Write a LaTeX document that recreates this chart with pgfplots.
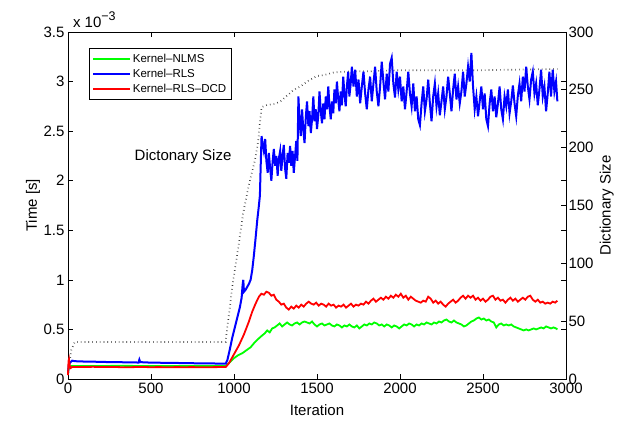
\documentclass[border=0pt]{standalone}
\usepackage{fontspec}
\setmainfont{Liberation Sans}
\usepackage{pgfplots}
\pgfplotsset{compat=1.18}

\definecolor{mgreen}{rgb}{0,1,0}
\definecolor{mblue}{rgb}{0,0,1}
\definecolor{mred}{rgb}{1,0,0}

\pgfplotsset{
  common/.style={
    scale only axis,
    width=498pt, height=347pt,
    xmin=0, xmax=3000,
    tick align=inside,
    major tick length=5pt,
    axis line style={line width=0.9pt},
    every tick/.style={black, line width=0.7pt},
    tick label style={font=\fontsize{15}{17}\selectfont},
    label style={font=\fontsize{15}{17}\selectfont},
    /pgf/number format/assume math mode=true,
    /pgf/number format/1000 sep={},
    scaled ticks=false,
  }
}

\begin{document}
\begin{tikzpicture}
\useasboundingbox (-68pt,-43pt) rectangle (561pt,379pt);

% right axis: dictionary size (drawn first, lines lie above it)
\begin{axis}[
  common,
  hide x axis,
  axis y line*=right,
  ymin=0, ymax=300,
  ytick={0,50,...,300},
  yticklabel style={xshift=-1pt},
  ylabel={Dictionary Size},
  ylabel style={at={(axis description cs:1.082,0.5)}, anchor=center},
]
\addplot[black!80, line width=1.7pt, dash pattern=on 0.6pt off 3.2pt] coordinates {
(0,2) (5,10) (20,25) (40,32) (950,32) (960,45) (980,68) (995,85) (1030,118)
(1055,143) (1090,168) (1126,189) (1145,205) (1156,221) (1166,235) (1200,237)
(1250,238) (1280,240) (1320,245) (1360,250) (1400,253) (1450,258) (1500,262)
(1550,263) (1600,265) (1700,266) (1800,266) (2000,267) (2500,267) (2948,268)
};
\end{axis}

% left axis: time
\begin{axis}[
  common,
  clip=false,
  ymin=0, ymax=3.5,
  xtick={0,500,...,3000},
  ytick={0,0.5,...,3.5},
  yticklabel pos=left,
  xticklabel pos=bottom,
  xlabel={Iteration},
  ylabel={Time [s]},
  xlabel style={at={(axis description cs:0.5,-0.089)}, anchor=center},
  ylabel style={at={(axis description cs:-0.0703,0.5)}, anchor=center},
  legend style={at={(axis description cs:0.042,0.954)}, anchor=north west,
    draw=black, line width=0.8pt, font=\fontsize{11.5}{13}\selectfont,
    inner xsep=3pt, inner ysep=3.5pt, row sep=1.2pt,
    nodes={inner sep=2pt}},
  legend cell align=left,
  legend image code/.code={\draw[#1, line width=1.6pt] (0pt,0pt) -- (37pt,0pt);},
]
\addplot[mgreen, line width=1.8pt] coordinates {
(0,0.05) (3,0.1) (8,0.12) (20,0.13) (100,0.132) (200,0.131) (300,0.133) (400,0.132)
(500,0.13) (600,0.131) (700,0.13) (800,0.132) (900,0.13) (950,0.13) (975,0.17)
(1000,0.21) (1025,0.24) (1050,0.26) (1075,0.29) (1100,0.32) (1125,0.37) (1150,0.41)
(1170,0.44) (1185,0.46) (1200,0.49) (1215,0.47) (1230,0.51) (1245,0.52) (1260,0.54)
(1275,0.56) (1290,0.53) (1305,0.55) (1320,0.57) (1335,0.55) (1350,0.54) (1365,0.56)
(1380,0.57) (1395,0.55) (1410,0.57) (1425,0.58) (1440,0.57) (1455,0.56) (1470,0.58)
(1485,0.55) (1500,0.53) (1515,0.55) (1530,0.56) (1545,0.54) (1560,0.55) (1575,0.56)
(1590,0.54) (1605,0.53) (1620,0.55) (1635,0.54) (1650,0.52) (1665,0.54) (1680,0.53)
(1695,0.55) (1710,0.53) (1725,0.52) (1740,0.54) (1755,0.51) (1770,0.53) (1785,0.55)
(1800,0.54) (1815,0.56) (1830,0.55) (1845,0.57) (1860,0.56) (1875,0.54) (1890,0.55)
(1905,0.53) (1920,0.55) (1935,0.54) (1950,0.52) (1965,0.54) (1980,0.53) (1995,0.51)
(2010,0.53) (2025,0.55) (2040,0.54) (2055,0.56) (2070,0.55) (2085,0.53) (2100,0.55)
(2115,0.54) (2130,0.56) (2145,0.55) (2160,0.57) (2175,0.56) (2190,0.55) (2205,0.57)
(2220,0.56) (2235,0.58) (2250,0.57) (2265,0.59) (2280,0.6) (2295,0.58) (2310,0.57)
(2325,0.59) (2340,0.57) (2355,0.56) (2370,0.55) (2385,0.53) (2400,0.54) (2415,0.56)
(2430,0.58) (2445,0.59) (2460,0.61) (2475,0.62) (2490,0.6) (2505,0.61) (2520,0.59)
(2535,0.6) (2550,0.58) (2565,0.57) (2580,0.52) (2595,0.55) (2610,0.56) (2625,0.54)
(2640,0.55) (2655,0.54) (2670,0.55) (2685,0.53) (2700,0.52) (2715,0.51) (2730,0.5)
(2745,0.49) (2760,0.5) (2775,0.49) (2790,0.5) (2805,0.51) (2820,0.5) (2835,0.51)
(2850,0.52) (2865,0.51) (2880,0.53) (2895,0.52) (2910,0.51) (2925,0.52) (2940,0.51)
(2948,0.5)
};
\addlegendentry{Kernel--NLMS}

\addplot[mblue, line width=2pt] coordinates {
(0,0.06) (4,0.13) (10,0.16) (25,0.185) (40,0.18) (60,0.178) (100,0.176) (150,0.175)
(200,0.172) (250,0.171) (300,0.17) (350,0.168) (400,0.167) (425,0.166) (430,0.195)
(435,0.17) (500,0.165) (550,0.164) (600,0.163) (650,0.162) (700,0.16) (750,0.159)
(800,0.158) (850,0.157) (900,0.156) (950,0.155)
(960,0.19) (975,0.3) (990,0.42) (1005,0.52) (1020,0.62) (1035,0.72) (1046,0.82)
(1052,0.95) (1056,1.0) (1060,0.88) (1070,0.9) (1080,0.93) (1090,0.96) (1100,1.0)
(1110,1.1) (1120,1.25) (1130,1.42) (1140,1.6) (1150,1.75) (1156,1.85) (1160,2.1)
(1166,2.45)
(1172,2.38) (1180,2.3) (1188,2.42) (1195,2.2) (1203,2.08) (1210,2.28) (1218,2.12)
(1225,2.0) (1233,2.2) (1240,2.32) (1248,2.15) (1255,2.25) (1263,2.05) (1270,2.22)
(1278,2.3) (1285,2.1) (1293,2.26) (1300,2.36) (1308,2.12) (1315,2.02) (1323,2.28)
(1330,2.18) (1338,2.35) (1345,2.15) (1353,2.3) (1360,2.08) (1368,2.25) (1375,2.4)
(1382,2.2) (1388,2.85)
(1395,2.6) (1402,2.45) (1410,2.72) (1418,2.5) (1425,2.38) (1433,2.65) (1440,2.8)
(1448,2.55) (1455,2.7) (1463,2.48) (1470,2.62) (1478,2.85) (1485,2.6) (1493,2.72)
(1500,2.52) (1508,2.66) (1515,2.9) (1523,2.7) (1530,2.58) (1538,2.78) (1545,2.62)
(1553,2.85) (1560,2.72) (1568,2.95) (1575,2.75) (1583,2.62) (1590,2.8) (1598,2.68)
(1605,2.92) (1613,2.78) (1620,3.0) (1628,2.82) (1635,2.7) (1643,2.9) (1650,2.76)
(1658,3.05) (1665,2.88) (1673,2.75) (1680,2.95) (1688,3.1) (1695,2.85) (1703,2.98)
(1710,3.15)
(1720,2.95) (1730,3.12) (1740,2.85) (1750,3.02) (1760,2.78) (1770,2.95) (1780,3.1)
(1790,2.88) (1800,2.72) (1810,2.92) (1820,3.05) (1830,2.8) (1840,2.98) (1850,3.15)
(1860,2.9) (1870,2.75) (1880,2.95) (1890,3.2) (1900,3.0) (1910,2.82) (1920,3.08)
(1930,2.9) (1940,3.18) (1950,3.24) (1960,2.98) (1970,2.84) (1980,3.1) (1990,2.92)
(2000,3.05) (2010,2.8) (2020,2.95) (2030,2.72) (2040,2.9) (2050,3.1) (2060,2.88)
(2070,2.75) (2080,2.98) (2090,2.7) (2100,2.85) (2110,2.62) (2120,2.56) (2130,2.78)
(2140,2.95) (2150,2.7) (2160,2.82) (2170,3.02) (2180,2.78) (2190,2.6) (2200,2.85)
(2210,2.98) (2220,2.75) (2230,2.88) (2240,2.66) (2250,2.8) (2260,2.95) (2270,2.72)
(2280,2.85) (2290,3.05) (2300,2.88) (2310,2.7) (2320,2.92) (2330,3.08) (2340,2.82)
(2350,2.95) (2360,2.78) (2370,2.9) (2380,3.1) (2390,2.85) (2400,2.98) (2410,3.15)
(2420,3.0) (2430,3.29) (2440,2.95) (2450,2.72) (2460,2.85) (2470,2.65) (2480,2.8)
(2490,2.95) (2500,2.72) (2510,2.88) (2520,2.62) (2530,2.55) (2540,2.78) (2550,2.92)
(2560,2.7) (2570,2.85) (2580,2.64) (2590,2.78) (2600,2.95) (2610,2.72) (2620,2.62)
(2630,2.85) (2640,2.75) (2650,2.92) (2660,2.68) (2670,2.8) (2680,2.96) (2690,2.78)
(2700,2.65) (2710,2.86) (2720,2.98) (2730,2.8) (2740,3.05) (2750,2.9) (2760,3.15)
(2770,2.95) (2780,2.82) (2790,3.02) (2800,3.1) (2810,2.88) (2820,2.98) (2830,2.76)
(2840,2.92) (2850,3.12) (2860,2.85) (2870,2.95) (2880,2.7) (2890,2.88) (2900,3.1)
(2910,2.85) (2920,3.12) (2930,2.9) (2940,3.0) (2948,2.8)
};
\addlegendentry{Kernel--RLS}

\addplot[mred, line width=1.8pt] coordinates {
(0,0.04) (3,0.18) (6,0.2) (10,0.14) (15,0.11) (25,0.12) (50,0.122) (100,0.12)
(150,0.123) (200,0.12) (250,0.121) (300,0.12) (350,0.118) (400,0.12) (450,0.121)
(500,0.119) (550,0.12) (600,0.118) (650,0.12) (700,0.119) (750,0.12) (800,0.118)
(850,0.119) (900,0.12) (950,0.12) (970,0.16) (1000,0.25) (1030,0.34) (1060,0.45)
(1090,0.58) (1110,0.68) (1130,0.76) (1150,0.83) (1165,0.86) (1180,0.85) (1195,0.88)
(1210,0.87) (1225,0.84) (1240,0.85) (1255,0.8) (1270,0.78) (1285,0.75) (1300,0.76)
(1315,0.72) (1330,0.7) (1345,0.73) (1360,0.71) (1375,0.74) (1390,0.72) (1405,0.75)
(1420,0.73) (1435,0.76) (1450,0.78) (1465,0.76) (1480,0.75) (1495,0.77) (1510,0.74)
(1525,0.76) (1540,0.75) (1555,0.73) (1570,0.76) (1585,0.74) (1600,0.75) (1615,0.72)
(1630,0.74) (1645,0.73) (1660,0.75) (1675,0.72) (1690,0.74) (1705,0.76) (1720,0.73)
(1735,0.75) (1750,0.74) (1765,0.76) (1780,0.75) (1795,0.78) (1810,0.76) (1825,0.79)
(1840,0.81) (1855,0.78) (1870,0.8) (1885,0.82) (1900,0.8) (1915,0.83) (1930,0.81)
(1945,0.84) (1960,0.82) (1975,0.85) (1990,0.83) (2005,0.86) (2020,0.82) (2035,0.84)
(2050,0.8) (2065,0.83) (2080,0.81) (2095,0.79) (2110,0.78) (2125,0.77) (2140,0.79)
(2155,0.78) (2170,0.83) (2185,0.81) (2200,0.77) (2215,0.79) (2230,0.76) (2245,0.78)
(2260,0.75) (2275,0.73) (2290,0.76) (2305,0.78) (2320,0.8) (2335,0.77) (2350,0.79)
(2365,0.82) (2380,0.84) (2395,0.81) (2410,0.84) (2425,0.82) (2440,0.84) (2455,0.8)
(2470,0.82) (2485,0.79) (2500,0.81) (2515,0.78) (2530,0.8) (2545,0.83) (2560,0.84)
(2575,0.8) (2590,0.82) (2605,0.79) (2620,0.8) (2635,0.77) (2650,0.8) (2665,0.82)
(2680,0.79) (2695,0.81) (2710,0.78) (2725,0.8) (2740,0.82) (2755,0.8) (2770,0.83)
(2785,0.84) (2800,0.8) (2815,0.78) (2830,0.8) (2845,0.77) (2860,0.78) (2875,0.76)
(2890,0.77) (2905,0.76) (2920,0.78) (2935,0.77) (2948,0.79)
};
\addlegendentry{Kernel--RLS--DCD}

\node[anchor=base west, font=\fontsize{15}{17}\selectfont] at (axis description cs:0.003,1.012)
  {x 10\raisebox{0.5em}{\fontsize{12.5}{14}\selectfont −3}};
\node[font=\fontsize{15}{17}\selectfont] at (axis description cs:0.231,0.64)
  {Dictonary Size};
\end{axis}
\end{tikzpicture}
\end{document}
